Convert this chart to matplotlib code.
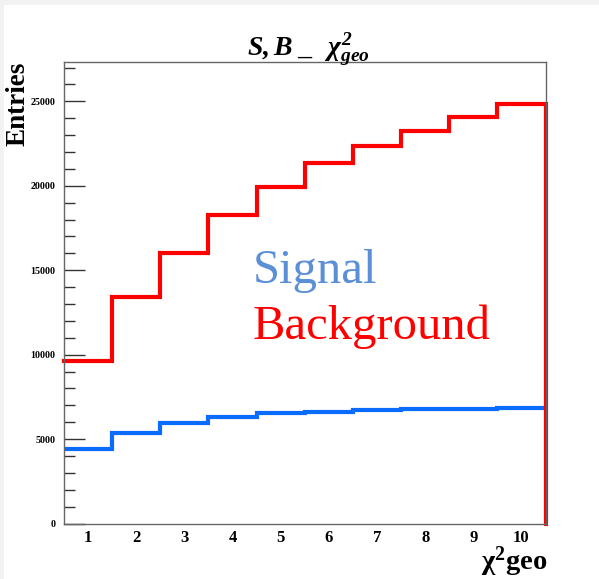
import matplotlib
matplotlib.use("Agg")
import matplotlib.pyplot as plt
from matplotlib.patches import Rectangle
import numpy as np

# chi2_geo histogram, 10 bins, signal vs background
bin_labels = ["1", "2", "3", "4", "5", "6", "7", "8", "9", "10"]
background = [9650, 13420, 16040, 18280, 19950, 21340, 22360, 23250, 24100, 24830]
signal = [4400, 5380, 5940, 6290, 6530, 6620, 6700, 6760, 6780, 6820]

plt.rcParams["font.family"] = "Liberation Serif"
plt.rcParams["mathtext.fontset"] = "custom"
plt.rcParams["mathtext.rm"] = "Liberation Serif:bold:italic"
plt.rcParams["mathtext.it"] = "Liberation Serif:bold:italic"
plt.rcParams["mathtext.bf"] = "Liberation Serif:bold"

fig = plt.figure(figsize=(5.99, 5.79), dpi=100)
fig.patch.set_facecolor("white")
# thin grey page margin along top and left
fig.patches.append(Rectangle((0, 1 - 5 / 579), 1, 5 / 579, transform=fig.transFigure,
                             facecolor="#f2f2f2", edgecolor="none", zorder=0))
fig.patches.append(Rectangle((0, 0), 4 / 599, 1, transform=fig.transFigure,
                             facecolor="#f2f2f2", edgecolor="none", zorder=0))

ax = fig.add_axes([64 / 599, 1 - 523.5 / 579, 481.5 / 599, 461.2 / 579])

edges = np.arange(len(bin_labels) + 1) + 0.5
centers = np.arange(1, len(bin_labels) + 1)

ax.stairs(signal, edges, color="#0a6cff", linewidth=3.0, baseline=None)
# background is drawn closed on the right edge, down to zero
bx = np.concatenate([[edges[0]], np.repeat(edges[1:-1], 2), [edges[-1], edges[-1]]])
by = np.concatenate([np.repeat(background, 2), [0]])
ax.plot(bx, by, color="#ff0000", linewidth=3.0, solid_joinstyle="miter", clip_on=False)

ymax = max(background) * 1.1
ax.set_xlim(edges[0], edges[-1])
ax.set_ylim(0, ymax)

ax.set_xticks(centers)
ax.set_xticklabels(bin_labels, fontsize=12, fontweight="bold")
ax.tick_params(axis="x", length=0, pad=4.5)
ax.set_yticks(np.arange(0, 25001, 5000))
ax.set_yticks(np.arange(0, ymax, 1000), minor=True)
ax.tick_params(axis="y", which="major", direction="in", length=15, width=1,
               color="#333333", labelsize=7.2, pad=6)
ax.tick_params(axis="y", which="minor", direction="in", length=8, width=1, color="#333333")
for lbl in ax.get_yticklabels():
    lbl.set_fontweight("bold")

for s in ax.spines.values():
    s.set_color("#666666")
    s.set_linewidth(1.0)

ax.text(0.392, 0.522, "Signal", transform=ax.transAxes, color="#5b8fd6", fontsize=35)
ax.text(0.392, 0.40, "Background", transform=ax.transAxes, color="#ff0000", fontsize=35)

fig.text(18 / 599, 1 - 62 / 579, "Entries", rotation=90, ha="center", va="top",
         fontsize=19.5, fontweight="bold")
fig.text(547 / 599, 1 - 570 / 579, r"$\mathbf{\chi^{2}geo}$", ha="right", va="baseline",
         fontsize=20.5)
fig.text(308 / 599, 1 - 55 / 579, r"$S,B\ \_\ \ \chi^{2}_{geo}$", ha="center",
         va="baseline", fontsize=20)

fig.savefig("out.png", dpi=100, facecolor=fig.get_facecolor())
